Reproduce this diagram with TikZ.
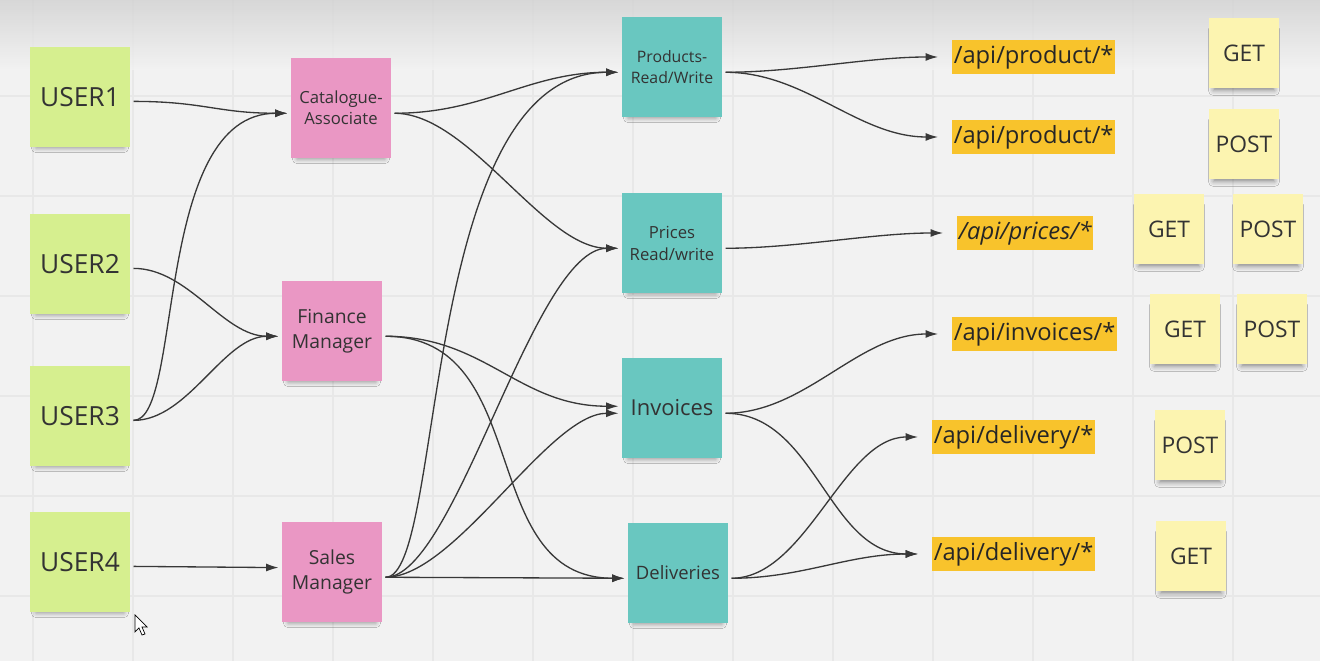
\documentclass[tikz,border=0pt]{standalone}
\usepackage{fontspec}
\setmainfont{Open Sans}
\usetikzlibrary{arrows.meta,shadows.blur}

\definecolor{boardbg}{HTML}{F2F2F2}
\definecolor{gridgray}{HTML}{E8E8E8}
\definecolor{usergreen}{HTML}{D6EF8F}
\definecolor{rolepink}{HTML}{EA97C4}
\definecolor{permteal}{HTML}{69C7C0}
\definecolor{apiorange}{HTML}{F8C32C}
\definecolor{verbyellow}{HTML}{FCF4B0}
\definecolor{linegray}{HTML}{383838}

\begin{document}
\begin{tikzpicture}[x=0.02cm,y=-0.02cm, % 1 unit = 1 px of the board
	sticky/.style={minimum width=2cm,minimum height=2cm,inner sep=2pt,outer sep=2pt,align=center,text=black!80,
		blur shadow={shadow xshift=0pt,shadow yshift=-4.5pt,shadow scale=0.88,shadow opacity=40,shadow blur radius=3pt}},
	usernote/.style={sticky,fill=usergreen,font=\fontsize{15}{18}\selectfont},
	rolenote/.style={sticky,fill=rolepink},
	permnote/.style={sticky,fill=permteal},
	verbnote/.style={sticky,minimum width=1.4cm,minimum height=1.4cm,fill=verbyellow,font=\fontsize{13}{15}\selectfont},
	apitag/.style={anchor=west,fill=apiorange,inner xsep=1pt,inner ysep=0pt,outer xsep=8pt,outer ysep=0pt,
		minimum height=0.68cm,text=black!85,font=\fontsize{13.5}{16}\selectfont},
	conn/.style={draw=linegray,line width=0.75pt,-{Latex[length=7pt,width=4.5pt]}},
	gridline/.style={draw=gridgray,line width=0.6pt}]
	\useasboundingbox (0,0) rectangle (1320,661);
	\fill[boardbg] (0,0) rectangle (1320,661);
	\foreach \gx in {33,133,...,1233} \draw[gridline] (\gx,0) -- (\gx,661);
	\foreach \gy in {96,196,...,596} \draw[gridline] (0,\gy) -- (1320,\gy);
	\shade[top color=black!18,bottom color=boardbg,opacity=0.8] (0,0) rectangle (1320,70);

	\node[usernote] (u1) at (80,97) {USER1};
	\node[usernote] (u2) at (80,264) {USER2};
	\node[usernote] (u3) at (80,416) {USER3};
	\node[usernote] (u4) at (80,562) {USER4};

	\node[rolenote,font=\fontsize{9.5}{12}\selectfont] (cat) at (341,108) {Catalogue-\\Associate};
	\node[rolenote,font=\fontsize{11}{14.5}\selectfont] (fin) at (332,331) {Finance\\Manager};
	\node[rolenote,font=\fontsize{11}{14.5}\selectfont] (sal) at (332,572) {Sales\\Manager};

	\node[permnote,font=\fontsize{9}{11.5}\selectfont] (prod) at (672,67) {Products-\\Read/Write};
	\node[permnote,font=\fontsize{9.5}{12.5}\selectfont] (pric) at (672,243) {Prices\\Read/write};
	\node[permnote,font=\fontsize{12.5}{15}\selectfont] (inv) at (672,408) {Invoices};
	\node[permnote,font=\fontsize{10.5}{13}\selectfont] (del) at (678,573) {Deliveries};

	\node[apitag] (aprod1) at (938,57) {/api/product/*};
	\node[apitag] (aprod2) at (938,137) {/api/product/*};
	\node[apitag] (apric) at (943,233) {\itshape /api/prices/*};
	\node[apitag] (ainv) at (938,334) {/api/invoices/*};
	\node[apitag] (adel1) at (918,437) {/api/delivery/*};
	\node[apitag] (adel2) at (918,554) {/api/delivery/*};

	\node[verbnote] (get1) at (1244,53) {GET};
	\node[verbnote] (post1) at (1244,144) {POST};
	\node[verbnote] (get2) at (1169,229) {GET};
	\node[verbnote] (post2) at (1268,229) {POST};
	\node[verbnote] (get3) at (1185,329) {GET};
	\node[verbnote] (post3) at (1272,329) {POST};
	\node[verbnote] (post4) at (1190,445) {POST};
	\node[verbnote] (get4) at (1191,556) {GET};

	% users -> roles
	\draw[conn] ([yshift=-2.5pt]u1.east) .. controls +(70,0) and +(-70,0) .. ([yshift=-3pt]cat.west);
	\draw[conn] ([yshift=-2.5pt]u3.east) .. controls +(50,0) and +(-135,0) .. ([yshift=-3pt]cat.west);
	\draw[conn] ([yshift=-2.5pt]u2.east) .. controls +(55,0) and +(-55,0) .. ([yshift=-3pt]fin.west);
	\draw[conn] ([yshift=-2.5pt]u3.east) .. controls +(55,0) and +(-55,0) .. ([yshift=-3pt]fin.west);
	\draw[conn] ([yshift=-2.5pt]u4.east) -- ([yshift=2.5pt]sal.west);

	% roles -> permissions
	\draw[conn] ([yshift=-3pt]cat.east) .. controls +(90,0) and +(-90,0) .. ([yshift=-3pt]prod.west);
	\draw[conn] ([yshift=-3pt]cat.east) .. controls +(75,0) and +(-75,0) .. ([yshift=-3pt]pric.west);
	\draw[conn] ([yshift=-3pt]fin.east) .. controls +(100,0) and +(-100,0) .. ([yshift=1pt]inv.west);
	\draw[conn] ([yshift=-3pt]fin.east) .. controls +(150,0) and +(-150,0) .. ([yshift=-3pt]del.west);
	\draw[conn] ([yshift=-3pt]sal.east) .. controls +(60,0) and +(-200,0) .. ([yshift=-3pt]prod.west);
	\draw[conn] ([yshift=-3pt]sal.east) .. controls +(70,0) and +(-85,0) .. ([yshift=-3pt]pric.west);
	\draw[conn] ([yshift=-3pt]sal.east) .. controls +(70,0) and +(-70,0) .. ([yshift=-3pt]inv.west);
	\draw[conn] ([yshift=-3pt]sal.east) -- ([yshift=-3pt]del.west);

	% permissions -> endpoints
	\draw[conn] ([yshift=-3pt]prod.east) .. controls +(70,0) and +(-70,0) .. (aprod1.west);
	\draw[conn] ([yshift=-3pt]prod.east) .. controls +(80,0) and +(-80,0) .. (aprod2.west);
	\draw[conn] ([yshift=-3pt]pric.east) .. controls +(70,0) and +(-70,0) .. (apric.west);
	\draw[conn] ([yshift=-3pt]inv.east) .. controls +(80,0) and +(-80,0) .. (ainv.west);
	\draw[conn] ([yshift=-3pt]inv.east) .. controls +(90,0) and +(-90,0) .. (adel2.west);
	\draw[conn] ([yshift=-3pt]del.east) .. controls +(75,0) and +(-75,0) .. (adel1.west);
	\draw[conn] ([yshift=-3pt]del.east) .. controls +(70,0) and +(-70,0) .. (adel2.west);

	\filldraw[fill=white,draw=black,line width=0.4pt] (135,615) -- (135,632) -- (139,628) -- (142,635) -- (145,634) -- (142,627) -- (147,627) -- cycle;
\end{tikzpicture}
\end{document}
